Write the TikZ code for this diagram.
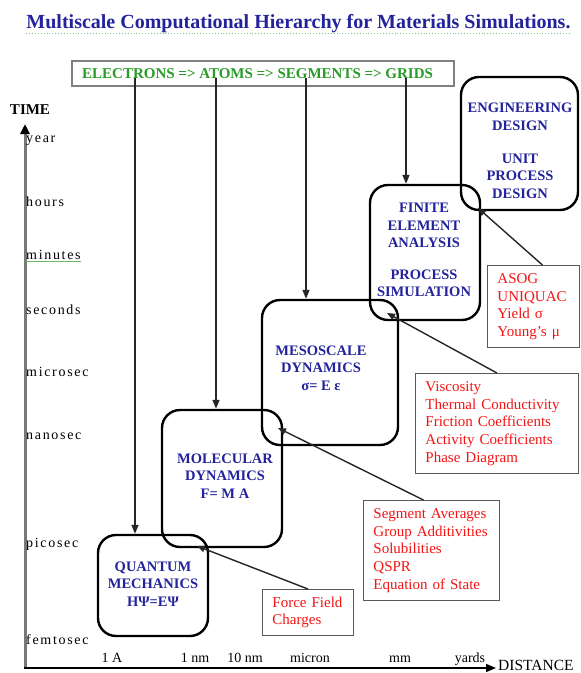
\documentclass[tikz,border=0pt]{standalone}
\usepackage{fontspec}
\setmainfont{Liberation Serif}
\newfontfamily\axisfont[LetterSpace=12]{Liberation Serif}
\usetikzlibrary{arrows.meta}
\definecolor{navyblue}{RGB}{35,35,155}
\definecolor{grn}{RGB}{40,155,40}
\definecolor{redtxt}{RGB}{245,20,20}
\definecolor{axisgray}{RGB}{120,120,120}
\begin{document}
\begin{tikzpicture}[x=1pt,y=-1pt,
  rbox/.style={draw=black, line width=2.4pt, rounded corners=18pt, inner sep=0pt},
  btext/.style={text=navyblue, font=\fontsize{14.5}{17.5}\selectfont\bfseries, align=center, inner sep=0pt},
  redbox/.style={draw=black!65, line width=0.9pt, anchor=north west, inner xsep=10pt, inner ysep=0pt, align=left, text=redtxt, font=\fontsize{15}{17.6}\selectfont},
  tlabel/.style={anchor=base west, inner sep=0pt, font=\axisfont\fontsize{14}{16}\selectfont},
  dlabel/.style={anchor=base, inner sep=0pt, font=\fontsize{14}{16}\selectfont},
  conn/.style={line width=1.4pt, draw=black!85, -{Triangle[length=9pt,width=7pt]}},
  diag/.style={line width=1.4pt, draw=black!85, -{Triangle[length=8pt,width=6.5pt]}},
]
\fill[white] (0,0) rectangle (581,673);
\useasboundingbox (0,0) rectangle (581,673);

% title
\node[font=\fontsize{20}{24}\selectfont\bfseries, text=navyblue, inner sep=0pt] (title) at (298.5,24) {Multiscale Computational Hierarchy for Materials Simulations.};
\draw[grn!60, dotted, line width=0.9pt] ([yshift=-0.5pt]title.south west) -- ([yshift=-0.5pt]title.south east);

% top box
\node[draw=black!50, line width=1.6pt, minimum width=382pt, minimum height=25pt, inner sep=0pt] (topbox) at (263,73.5) {};
\node[font=\fontsize{15}{18}\selectfont\bfseries, text=grn, anchor=west, inner sep=0pt] (toptext) at (82,74) {ELECTRONS => ATOMS => SEGMENTS => GRIDS};

% axes
\coordinate (origin) at (25,668);
\coordinate (ytip) at (25,124);
\coordinate (xtip) at (496,668);
\draw[line width=3pt, draw=axisgray, -{Triangle[length=10pt,width=9pt,color=black]}] (origin) -- (ytip);
\draw[line width=1.5pt, draw=black, -{Triangle[length=10pt,width=8pt]}] ([xshift=-1.5pt]origin) -- (xtip);
\node[font=\fontsize{15}{18}\selectfont\bfseries, inner sep=0pt] (time) at (30,110) {TIME};
\node[font=\fontsize{15.5}{18}\selectfont, anchor=west, inner sep=0pt] (dist) at (498,665) {DISTANCE};

% time labels
\node[tlabel] (tyear) at (26,142) {year};
\node[tlabel] (thours) at (26,206) {hours};
\node[tlabel] (tmin) at (26,259) {minutes};
\draw[grn!70, line width=0.8pt] ([yshift=-2pt]tmin.south west) -- ([yshift=-2pt]tmin.south east);
\node[tlabel] (tsec) at (26,314) {seconds};
\node[tlabel] (tmicro) at (26,376) {microsec};
\node[tlabel] (tnano) at (26,439) {nanosec};
\node[tlabel] (tpico) at (26,547) {picosec};
\node[tlabel] (tfemto) at (26,644) {femtosec};

% distance labels
\node[dlabel] (d1) at (112,662) {1 A};
\node[dlabel] (d2) at (195,662) {1 nm};
\node[dlabel] (d3) at (245,662) {10 nm};
\node[dlabel] (d4) at (310,662) {micron};
\node[dlabel] (d5) at (400,662) {mm};
\node[dlabel] (d6) at (470,662) {yards};

% rounded boxes
\node[rbox, minimum width=110pt, minimum height=101pt] (qm) at (153,585.5) {};
\node[btext] (qmt) at (153,584) {QUANTUM\\MECHANICS\\HΨ=EΨ};
\node[rbox, minimum width=120pt, minimum height=137pt] (md) at (222,478.5) {};
\node[btext] (mdt) at (225,476) {MOLECULAR\\DYNAMICS\\F= M A};
\node[rbox, minimum width=136pt, minimum height=145pt] (meso) at (330,372.5) {};
\node[btext] (mesot) at (321,368) {MESOSCALE\\DYNAMICS\\σ= E ε};
\node[rbox, minimum width=110pt, minimum height=135pt] (fea) at (425,252.5) {};
\node[btext] (feat) at (424,250) {FINITE\\ELEMENT\\ANALYSIS\\[14pt]PROCESS\\SIMULATION};
\node[rbox, minimum width=117pt, minimum height=133pt] (eng) at (519.5,143.5) {};
\node[btext] (engt) at (520,151) {ENGINEERING\\DESIGN\\[15.5pt]UNIT\\PROCESS\\DESIGN};

% red boxes
\node[redbox, text width=71pt, minimum height=46pt] (ff) at (262,589) {Force Field\\Charges};
\node[redbox, text width=116pt, minimum height=100pt] (seg) at (363,500) {Segment Averages\\Group Additivities\\Solubilities\\QSPR\\Equation of State};
\node[redbox, text width=143pt, minimum height=100pt] (visc) at (415,373) {Viscosity\\Thermal Conductivity\\Friction Coefficients\\Activity Coefficients\\Phase Diagram};
\node[redbox, text width=72pt, minimum height=82pt] (asog) at (487,265) {ASOG\\UNIQUAC\\Yield σ\\Young's μ};

% vertical arrows from top box
\coordinate (e1) at (135,78);
\coordinate (e2) at (216,78);
\coordinate (e3) at (306,78);
\coordinate (e4) at (406,78);
\draw[conn] (e1) -- (e1 |- qm.north);
\draw[conn] (e2) -- (e2 |- md.north);
\draw[conn] (e3) -- (e3 |- meso.north);
\draw[conn] (e4) -- (e4 |- fea.north);

% diagonal connectors
\coordinate (c1) at (197,546);
\coordinate (c2) at (278,428);
\coordinate (c3) at (387,313);
\coordinate (c4) at (478,208);
\draw[diag] (ff.north) -- (c1);
\draw[diag] ([xshift=-8pt]seg.north) -- (c2);
\draw[diag] (visc.north) -- (c3);
\draw[diag] ([xshift=9pt]asog.north) -- (c4);
\end{tikzpicture}
\end{document}
